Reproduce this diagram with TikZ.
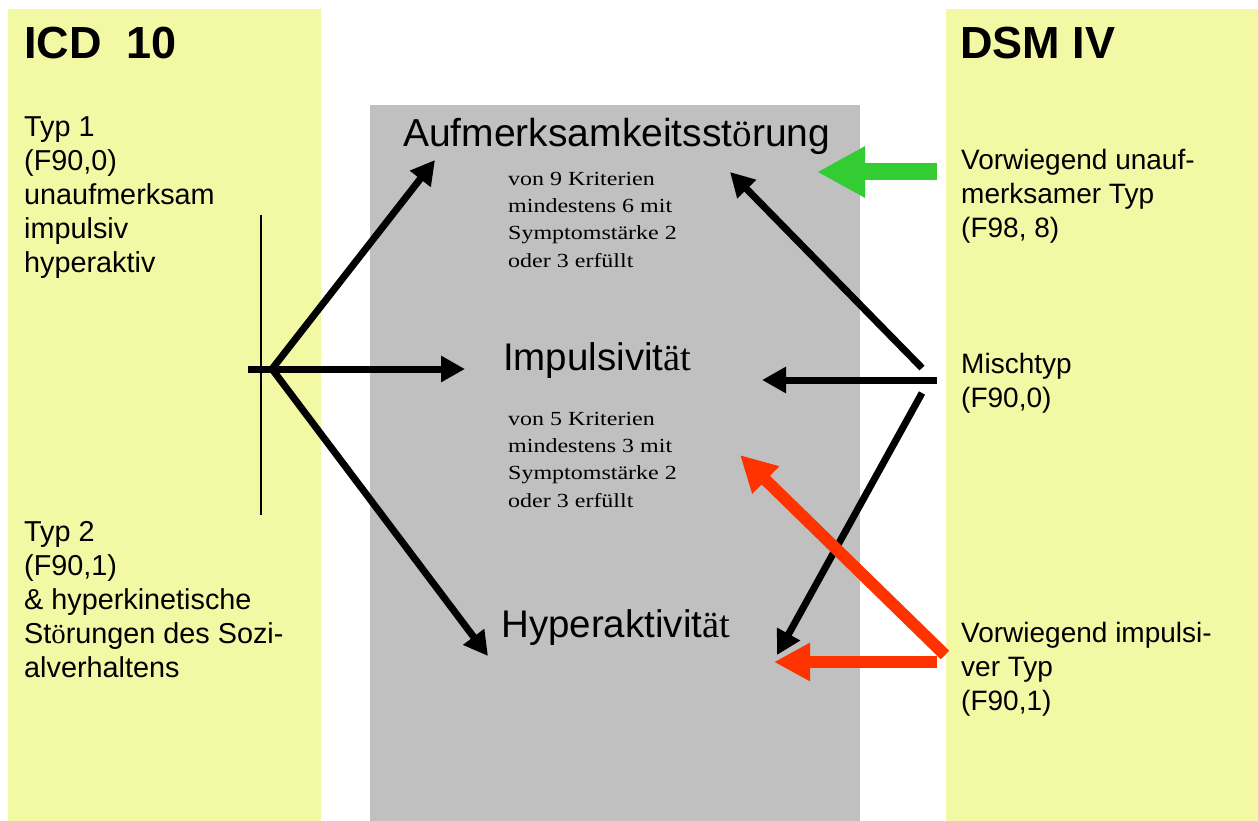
\documentclass[tikz,border=0pt]{standalone}
\usepackage{fontspec}
\setmainfont{Liberation Sans}
\newfontfamily\serif{Liberation Serif}
\newfontfamily\critfont[FakeStretch=1.2]{Liberation Serif}
\usetikzlibrary{arrows.meta}
\definecolor{paleyellow}{RGB}{243,248,165}
\definecolor{midgray}{RGB}{192,192,192}
\definecolor{arrowgreen}{RGB}{51,204,51}
\definecolor{arrowred}{RGB}{255,51,0}
\newcommand{\so}{{\serif ö}}
\newcommand{\sat}{{\serif ät}}
\tikzset{
  panel/.style={fill=paleyellow, draw=none},
  centerpanel/.style={fill=midgray, draw=none},
  title/.style={anchor=base west, inner sep=0pt, font=\fontsize{45}{54}\selectfont\bfseries},
  body/.style={anchor=base west, inner sep=0pt, align=left, font=\fontsize{28}{34}\selectfont},
  leftbody/.style={anchor=base west, inner sep=0pt, align=left, font=\fontsize{28.8}{33.8}\selectfont},
  big/.style={anchor=base west, inner sep=0pt, font=\fontsize{38.5}{44}\selectfont},
  crit/.style={anchor=base west, inner sep=0pt, align=left, font=\critfont\fontsize{20}{27.3}\selectfont},
  blackarrow/.style={line width=7pt, -{Triangle[length=24pt,width=25pt]}},
  redarrow/.style={draw=arrowred, line width=12pt, -{Triangle[length=36pt,width=36pt]}},
  greenarrow/.style={draw=arrowgreen, line width=17pt, -{Triangle[length=48pt,width=48pt]}},
}
\begin{document}
\begin{tikzpicture}[x=1pt,y=-1pt]
\useasboundingbox (0,0) rectangle (1258,821);
\fill[white] (0,0) rectangle (1258,821);
% panels
\fill[panel] (8,9) rectangle (321,821);
\fill[panel] (946,9) rectangle (1258,821);
\fill[centerpanel] (370,105) rectangle (860,821);
% titles
\node[title] (icd) at (24,59) {ICD\ \ 10};
\node[title] (dsm) at (960,59) {DSM IV};
% left texts (anchored at baseline of last line)
\node[leftbody] (typ1) at (24,272) {Typ 1\\(F90,0)\\unaufmerksam\\impulsiv\\hyperaktiv};
\node[leftbody] (typ2) at (24,677) {Typ 2\\(F90,1)\\\& hyperkinetische\\St\so rungen des Sozi-\\alverhaltens};
% right texts
\node[body] (unauf) at (961,237) {Vorwiegend unauf-\\merksamer Typ\\(F98, 8)};
\node[body] (misch) at (961,407) {Mischtyp\\(F90,0)};
\node[body] (impt) at (961,710) {Vorwiegend impulsi-\\ver Typ\\(F90,1)};
% center texts
\node[big, font=\fontsize{39}{44}\selectfont] (aufm) at (403,147) {Aufmerksamkeitsst\so rung};
\node[crit] (krit1) at (508,267) {von 9 Kriterien\\mindestens 6 mit\\Symptomst\"arke 2\\oder 3 erf\"ullt};
\node[big] (impuls) at (503,370) {Impulsivit\sat};
\node[crit] (krit2) at (508,507) {von 5 Kriterien\\mindestens 3 mit\\Symptomst\"arke 2\\oder 3 erf\"ullt};
\node[big] (hyper) at (501,637) {Hyperaktivit\sat};
% coordinates
\coordinate (vtop) at (261,215);
\coordinate (vbot) at (261,515);
\coordinate (stub) at (248,369);
\coordinate (junc) at (272,369);
\coordinate (tipA) at (435,160);
\coordinate (tipI) at (465,369);
\coordinate (tipH) at (488,656);
\coordinate (mU) at (922,368);
\coordinate (mM) at (937,380);
\coordinate (mL) at (922,393);
\coordinate (tipAr) at (730,172);
\coordinate (tipIr) at (762,380);
\coordinate (tipHr) at (777,655);
\coordinate (gS) at (937,172);
\coordinate (gT) at (817,172);
\coordinate (rS) at (937,662);
\coordinate (rT) at (774,662);
\coordinate (rdS) at (945,655);
\coordinate (rdT) at (740,455);
% left connectors
\draw[line width=2pt] (vtop) -- (vbot);
\draw[blackarrow] (junc) -- (tipA);
\draw[blackarrow] (stub) -- (tipI);
\draw[blackarrow] (junc) -- (tipH);
% right connectors
\draw[blackarrow] (mU) -- (tipAr);
\draw[blackarrow] (mM) -- (tipIr);
\draw[blackarrow] (mL) -- (tipHr);
\draw[greenarrow] (gS) -- (gT);
\draw[redarrow] (rdS) -- (rdT);
\draw[redarrow] (rS) -- (rT);
\end{tikzpicture}
\end{document}
